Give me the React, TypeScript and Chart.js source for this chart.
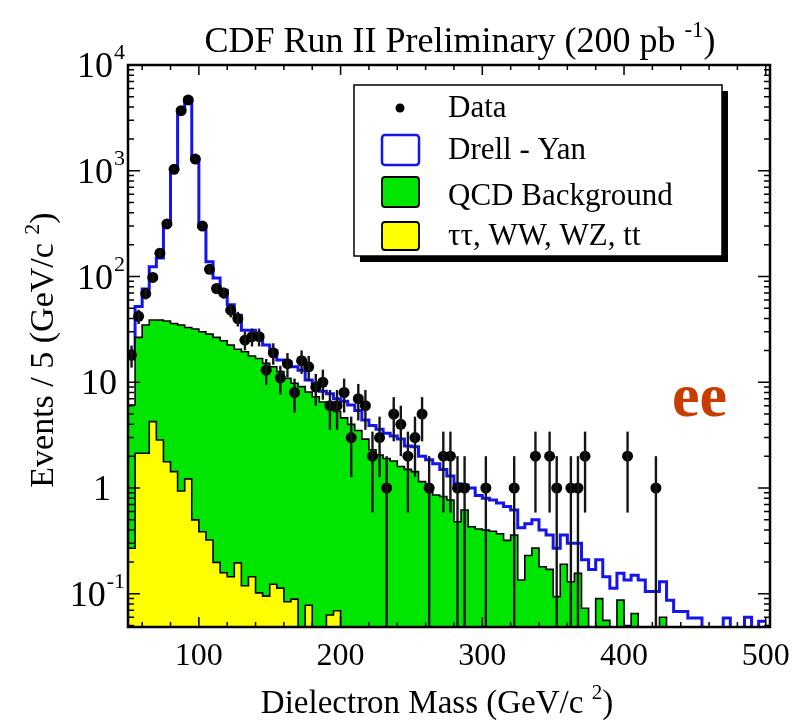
import { useEffect, useRef } from "react";
import { Chart, registerables } from "chart.js";

Chart.register(...registerables);

// Dielectron invariant mass, 5 GeV bins from 50 to 500 GeV
const MASS_MIN = 50;
const MASS_MAX = 500;
const AXIS_MAX = 503;
const BIN_WIDTH = 5;
const Y_MIN = 0.0485;
const Y_MAX = 10000;
// empty bins are drawn down at the axis floor (a log axis has no zero)
const EMPTY_LEVEL = Y_MIN / 4;

// Observed events per bin
const observedEvents = [
  18, 42, 69, 98, 166, 314, 1032, 3700, 4670, 1291,
  300, 117, 77, 70, 48, 40, 25, 27, 27, 13,
  19, 11, 15, 8, 16, 14, 9, 10, 6, 6,
  8, 3, 7, 6, 2, 3, 1, 5, 4, 2,
  3, 5, 1, 0, 2, 2, 1, 1, 0, 0,
  1, 0, 0, 0, 1, 0, 0, 2, 0, 2,
  1, 0, 1, 1, 2, 0, 0, 0, 0, 0,
  2, 0, 0, 0, 1, 0, 0, 0, 0, 0,
  0, 0, 0, 0, 0, 0, 0, 0, 0, 0,
];

// Stacked expectation: Drell-Yan on top of all backgrounds
const drellYanStack = [
  19, 52, 76, 124, 150, 318, 1030, 3800, 4550, 1300,
  295, 138, 97, 74, 54, 43, 31, 31, 28, 22.5,
  20, 16.2, 15.6, 14, 13, 10.5, 9.8, 8.2, 7.8, 7.0,
  6.6, 6.1, 5.4, 4.4, 3.9, 3.6, 3.3, 3.1, 2.9, 2.5,
  2.45, 2.0, 1.85, 1.7, 1.5, 1.3, 1.1, 1.07, 1.0, 0.85,
  0.8, 0.77, 0.72, 0.67, 0.62, 0.42, 0.46, 0.5, 0.4, 0.36,
  0.27, 0.36, 0.3, 0.3, 0.21, 0.17, 0.21, 0.145, 0.113, 0.156,
  0.135, 0.15, 0.135, 0.105, 0.105, 0.13, 0.087, 0.068, 0.068, 0.059,
  0.059, 0, 0, 0, 0.059, 0, 0, 0.06, 0, 0.055,
];

// QCD background stacked on the electroweak processes
const qcdStack = [
  6.1, 26.6, 34.8, 38.8, 38.8, 37.9, 36, 34.8, 33, 31.9,
  30, 28.5, 26.6, 24.7, 22.5, 20.5, 19.4, 17.7, 16.8, 15.1,
  14.0, 12.6, 10.9, 9.8, 9.1, 8.1, 7.3, 6.5, 5.9, 5.3,
  4.6, 4.0, 3.5, 2.9, 2.3, 2.05, 1.9, 1.8, 1.6, 1.5,
  1.43, 1.15, 0.96, 0.86, 0.83, 0.77, 0.48, 0.62, 0.43, 0.41,
  0.4, 0.39, 0.37, 0.32, 0.36, 0.135, 0.23, 0.27, 0.18, 0.17,
  0.094, 0.19, 0.13, 0.156, 0.073, 0, 0.09, 0.056, 0, 0.087,
  0.05, 0.065, 0, 0, 0, 0.06, 0, 0, 0, 0,
  0, 0, 0, 0, 0, 0, 0, 0, 0, 0,
];

// tau tau, WW, WZ, ttbar
const ewkStack = [
  0.269, 2.13, 2.13, 4.24, 2.84, 1.77, 1.43, 0.937, 1.22, 0.5,
  0.386, 0.322, 0.198, 0.158, 0.145, 0.196, 0.119, 0.145, 0.102, 0.095,
  0.123, 0.113, 0.084, 0.089, 0, 0.078, 0, 0, 0.063, 0.069,
  0, 0, 0, 0, 0, 0, 0, 0, 0, 0,
  0, 0, 0, 0, 0, 0, 0, 0, 0, 0,
  0, 0, 0, 0, 0, 0, 0, 0, 0, 0,
  0, 0, 0, 0, 0, 0, 0, 0, 0, 0,
  0, 0, 0, 0, 0, 0, 0, 0, 0, 0,
  0, 0, 0, 0, 0, 0, 0, 0, 0, 0,
];

const xTickLabels = [100, 200, 300, 400, 500];
const xMinorStep = 20;
const yTickValues = [0.1, 1, 10, 100, 1000, 10000];
const yTickBase = ["10", "1", "10", "10", "10", "10"];
const yTickExp = ["-1", "", "", "2", "3", "4"];

const legendLabels = ["Data", "Drell - Yan", "QCD Background", "\u03c4\u03c4, WW, WZ, tt"];

const GREEN = "rgb(0,230,0)";
const YELLOW = "rgb(255,255,0)";
const BLUE = "rgb(20,20,235)";
const SERIF = '"Liberation Serif", "Times New Roman", serif';
const font = (size: number, weight = "normal") => `${weight} ${size}px ${SERIF}`;

const nBins = observedEvents.length;
const binEdges = Array.from({ length: nBins + 1 }, (_, i) => MASS_MIN + i * BIN_WIDTH);
const stepPoints = (vals: number[]) =>
  binEdges.map((e, i) => {
    const v = vals[Math.min(i, vals.length - 1)];
    return { x: e, y: v > 0 ? v : EMPTY_LEVEL };
  });
const dataPoints = observedEvents
  .map((n, i) => ({ x: MASS_MIN + (i + 0.5) * BIN_WIDTH, y: n }))
  .filter((p) => p.y > 0);

type Run = { t: string; sup?: boolean };
function drawRuns(
  ctx: CanvasRenderingContext2D,
  runs: Run[],
  x: number,
  y: number,
  align: "left" | "center" | "right",
  size: number,
  supSize: number,
  raise: number
) {
  const widths = runs.map((r) => {
    ctx.font = font(r.sup ? supSize : size);
    return ctx.measureText(r.t).width;
  });
  const total = widths.reduce((a, b) => a + b, 0);
  let cx = align === "left" ? x : align === "center" ? x - total / 2 : x - total;
  ctx.textAlign = "left";
  ctx.textBaseline = "alphabetic";
  runs.forEach((r, i) => {
    ctx.font = font(r.sup ? supSize : size);
    ctx.fillText(r.t, cx, r.sup ? y - raise : y);
    cx += widths[i];
  });
}

const errorBarPlugin = {
  id: "errorBars",
  afterDatasetsDraw(chart: any) {
    const { ctx, chartArea, scales } = chart;
    const xs = scales.x;
    const ys = scales.y;
    ctx.save();
    ctx.beginPath();
    ctx.rect(chartArea.left, chartArea.top, chartArea.right - chartArea.left, chartArea.bottom - chartArea.top);
    ctx.clip();
    ctx.strokeStyle = "#151515";
    ctx.lineWidth = 2.4;
    dataPoints.forEach((p) => {
      const err = Math.sqrt(p.y);
      const px = xs.getPixelForValue(p.x);
      const lo = p.y - err;
      const yHi = ys.getPixelForValue(p.y + err);
      const yLo = lo > 0 ? ys.getPixelForValue(lo) : chartArea.bottom;
      ctx.beginPath();
      ctx.moveTo(px, yHi);
      ctx.lineTo(px, yLo);
      ctx.stroke();
    });
    ctx.restore();
  },
};

const decorPlugin = {
  id: "decor",
  afterDraw(chart: any) {
    const { ctx, chartArea, scales } = chart;
    const { left, right, top, bottom } = chartArea;
    const xs = scales.x;
    const ys = scales.y;
    ctx.save();
    ctx.fillStyle = "#000";
    ctx.strokeStyle = "#000";

    // frame
    ctx.lineWidth = 2.5;
    ctx.strokeRect(left, top, right - left, bottom - top);

    // x ticks, both sides, pointing inward
    ctx.lineWidth = 1.5;
    for (let v = MASS_MIN + 10; v <= MASS_MAX; v += xMinorStep) {
      const px = xs.getPixelForValue(v);
      const len = v % 100 === 0 ? 10 : 5;
      ctx.beginPath();
      ctx.moveTo(px, bottom);
      ctx.lineTo(px, bottom - len);
      ctx.moveTo(px, top);
      ctx.lineTo(px, top + len);
      ctx.stroke();
    }

    // y ticks, both sides
    for (let e = -2; e <= 4; e++) {
      for (let m = 1; m <= 9; m++) {
        const v = m * Math.pow(10, e);
        if (v < Y_MIN || v > Y_MAX) continue;
        const py = ys.getPixelForValue(v);
        const len = m === 1 ? 12 : 6;
        ctx.beginPath();
        ctx.moveTo(left, py);
        ctx.lineTo(left + len, py);
        ctx.moveTo(right, py);
        ctx.lineTo(right - len, py);
        ctx.stroke();
      }
    }

    // x tick labels
    ctx.font = font(32);
    ctx.textAlign = "center";
    ctx.textBaseline = "alphabetic";
    xTickLabels.forEach((v) => {
      ctx.fillText(String(v), xs.getPixelForValue(v), 665);
    });

    // y tick labels: power-of-ten labels are right-aligned as a whole
    yTickValues.forEach((v, i) => {
      const py = ys.getPixelForValue(v) + 12;
      if (yTickExp[i]) {
        ctx.font = font(22);
        const expW = ctx.measureText(yTickExp[i]).width;
        const baseRight = 125 - expW - 1;
        drawRuns(ctx, [{ t: yTickBase[i] }], baseRight, py, "right", 36, 22, 0);
        ctx.font = font(22);
        ctx.textAlign = "left";
        ctx.fillText(yTickExp[i], baseRight + 1, py - 18);
      } else {
        ctx.font = font(36);
        ctx.textAlign = "right";
        ctx.fillText(yTickBase[i], yTickBase[i].length > 1 ? 117 : 111, py);
      }
    });

    // titles
    drawRuns(
      ctx,
      [{ t: "CDF Run II Preliminary (200 pb " }, { t: "-1", sup: true }, { t: ")" }],
      460, 52, "center", 36, 23, 15
    );
    drawRuns(
      ctx,
      [{ t: "Dielectron Mass (GeV/c " }, { t: "2", sup: true }, { t: ")" }],
      437, 713, "center", 33, 21, 14
    );
    ctx.save();
    ctx.translate(53, 350);
    ctx.rotate(-Math.PI / 2);
    drawRuns(
      ctx,
      [{ t: "Events / 5 (GeV/c " }, { t: "2", sup: true }, { t: ")" }],
      0, 0, "center", 34, 22, 14
    );
    ctx.restore();

    // channel label
    ctx.fillStyle = "rgb(200,60,0)";
    ctx.font = font(62, "bold");
    ctx.textAlign = "left";
    ctx.fillText("ee", 672, 416);

    // legend box with drop shadow
    const lx = 354, ly = 85, lw = 368, lh = 171;
    ctx.fillStyle = "#000";
    ctx.fillRect(lx + 6, ly + 6, lw, lh);
    ctx.fillStyle = "#fff";
    ctx.fillRect(lx, ly, lw, lh);
    ctx.lineWidth = 1.5;
    ctx.strokeStyle = "#000";
    ctx.strokeRect(lx, ly, lw, lh);

    const rowBase = [117, 159, 205, 245];
    // data marker
    ctx.fillStyle = "#000";
    ctx.beginPath();
    ctx.arc(400, 108, 4.5, 0, Math.PI * 2);
    ctx.fill();
    // swatches
    const sw = [
      { y: 135, h: 30, fill: "#fff", stroke: BLUE, lw: 2.5 },
      { y: 177, h: 30, fill: GREEN, stroke: "#000", lw: 1.8 },
      { y: 222, h: 28, fill: YELLOW, stroke: "#000", lw: 1.8 },
    ];
    sw.forEach((s) => {
      ctx.fillStyle = s.fill;
      ctx.fillRect(382, s.y, 37, s.h);
      ctx.strokeStyle = s.stroke;
      ctx.lineWidth = s.lw;
      ctx.beginPath();
      if (typeof (ctx as any).roundRect === "function") {
        (ctx as any).roundRect(382, s.y, 37, s.h, 3);
      } else {
        ctx.rect(382, s.y, 37, s.h);
      }
      ctx.stroke();
    });
    ctx.fillStyle = "#000";
    ctx.font = font(31);
    ctx.textAlign = "left";
    legendLabels.forEach((t, i) => ctx.fillText(t, 448, rowBase[i]));

    ctx.restore();
  },
};

export default function App() {
  const canvasRef = useRef<HTMLCanvasElement>(null);

  useEffect(() => {
    const canvas = canvasRef.current;
    if (!canvas) return;
    const chart = new Chart(canvas, {
      type: "line",
      data: {
        datasets: [
          {
            label: "Data",
            data: dataPoints,
            showLine: false,
            pointRadius: 5.5,
            pointBackgroundColor: "#000",
            pointBorderColor: "#000",
            pointBorderWidth: 0,
            order: 0,
          },
          {
            label: "\u03c4\u03c4, WW, WZ, tt",
            data: stepPoints(ewkStack),
            stepped: "before",
            fill: "start",
            backgroundColor: YELLOW,
            borderColor: "#000",
            borderWidth: 1.6,
            pointRadius: 0,
            order: 1,
          },
          {
            label: "QCD Background",
            data: stepPoints(qcdStack),
            stepped: "before",
            fill: "start",
            backgroundColor: GREEN,
            borderColor: "#000",
            borderWidth: 1.6,
            pointRadius: 0,
            order: 2,
          },
          {
            label: "Drell - Yan",
            data: stepPoints(drellYanStack),
            stepped: "before",
            fill: false,
            borderColor: BLUE,
            borderWidth: 3,
            pointRadius: 0,
            order: 3,
          },
        ],
      },
      options: {
        responsive: false,
        animation: false,
        events: [],
        layout: { padding: { left: 128, right: 23, top: 65, bottom: 97 } },
        scales: {
          x: { type: "linear", min: MASS_MIN, max: AXIS_MAX, display: false },
          y: { type: "logarithmic", min: Y_MIN, max: Y_MAX, display: false },
        },
        plugins: {
          legend: { display: false },
          title: { display: false },
          tooltip: { enabled: false },
        },
      },
      plugins: [errorBarPlugin, decorPlugin],
    } as any);
    return () => chart.destroy();
  }, []);

  return (
    <div style={{ position: "absolute", left: 0, top: 0, width: 793, height: 724, background: "#fff" }}>
      <canvas ref={canvasRef} width={793} height={724} style={{ display: "block", width: 793, height: 724 }} />
    </div>
  );
}
